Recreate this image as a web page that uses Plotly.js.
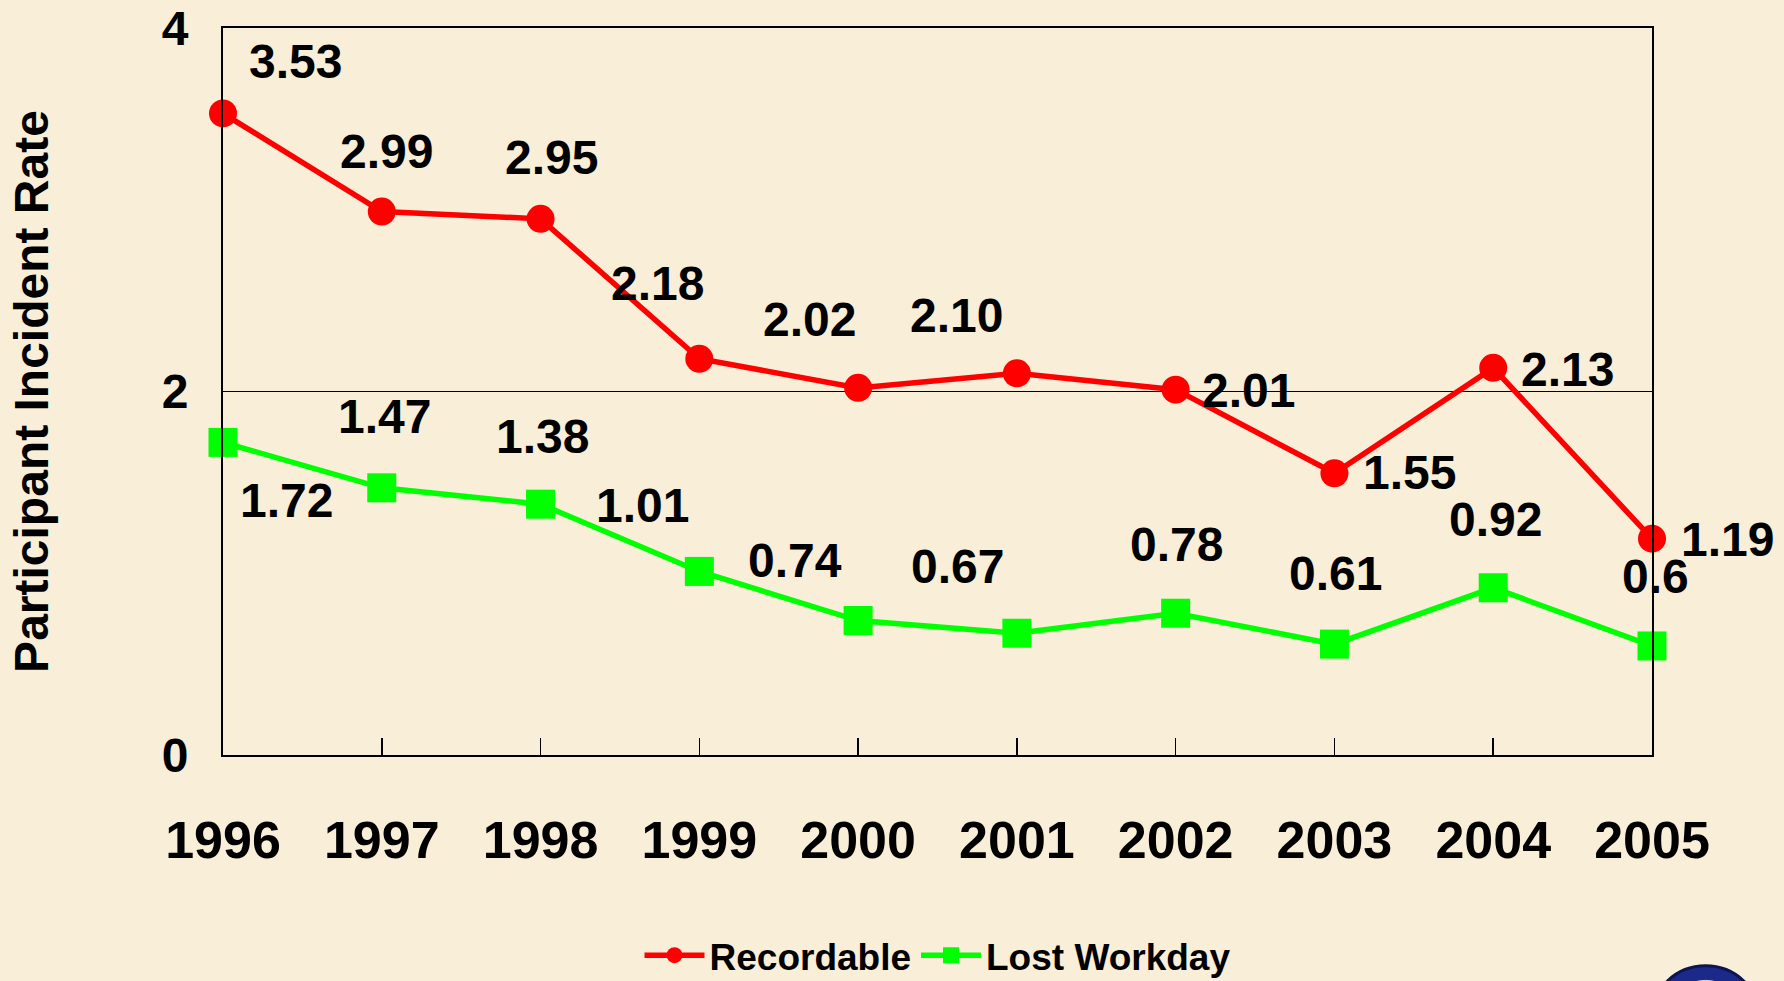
<!DOCTYPE html>
<html>
<head>
<meta charset="utf-8">
<script src="https://cdn.plot.ly/plotly-3.0.1.min.js"></script>
<style>
  html, body { margin: 0; padding: 0; background: #f9eed7; }
  #chart { width: 1784px; height: 981px; }
</style>
</head>
<body>
<div id="chart"></div>
<script>
// ---- data ----
const years = [1996, 1997, 1998, 1999, 2000, 2001, 2002, 2003, 2004, 2005];
const recordable = [3.53, 2.99, 2.95, 2.18, 2.02, 2.10, 2.01, 1.55, 2.13, 1.19];
const lostWorkday = [1.72, 1.47, 1.38, 1.01, 0.74, 0.67, 0.78, 0.61, 0.92, 0.60];
const recordableLabels = ["3.53", "2.99", "2.95", "2.18", "2.02", "2.10", "2.01", "1.55", "2.13", "1.19"];
const lostWorkdayLabels = ["1.72", "1.47", "1.38", "1.01", "0.74", "0.67", "0.78", "0.61", "0.92", "0.6"];
const yTicks = [0, 2, 4];
const seriesNames = ["Recordable", "Lost Workday"];
const yTitle = "Participant Incident Rate";

// ---- label placement (pixel offsets from each point: [dx, dy], dy downward) ----
const recShift = [[72,-52],[5,-60],[11,-61],[-42,-75],[-49,-68],[-60,-58],[73,1],[75,-1],[74,2],[75,1]];
const lostShift = [[63,58],[3,-71],[2,-68],[-57,-66],[-63,-60],[-59,-67],[1,-69],[1,-71],[2,-68],[3,-69]];

const FONT = '"Liberation Sans", Arial, sans-serif';

const traces = [
  {
    x: years, y: recordable, name: seriesNames[0], type: 'scatter', mode: 'lines+markers',
    line: { color: '#ff0000', width: 5.5 },
    marker: { color: '#ff0000', size: 28, symbol: 'circle' },
    cliponaxis: false
  },
  {
    x: years, y: lostWorkday, name: seriesNames[1], type: 'scatter', mode: 'lines+markers',
    line: { color: '#00ff00', width: 5.5 },
    marker: { color: '#00ff00', size: 29, symbol: 'square' },
    cliponaxis: false
  }
];

const annotations = [];
function addLabels(vals, labels, shifts) {
  vals.forEach((v, i) => {
    annotations.push({
      x: years[i], y: v, xref: 'x', yref: 'y', text: '<b>' + labels[i] + '</b>',
      showarrow: false, xshift: shifts[i][0], yshift: -shifts[i][1],
      font: { family: FONT, size: 48, color: '#000' }
    });
  });
}
addLabels(recordable, recordableLabels, recShift);
addLabels(lostWorkday, lostWorkdayLabels, lostShift);

const layout = {
  width: 1784, height: 981,
  paper_bgcolor: '#f9eed7', plot_bgcolor: 'rgba(0,0,0,0)',
  margin: { l: 223, r: 132, t: 28, b: 226, autoexpand: false },
  showlegend: true,
  legend: {
    orientation: 'h', x: 0.5, xanchor: 'center', y: -0.276, yanchor: 'middle',
    font: { family: FONT, size: 37, color: '#000', weight: 'bold' },
    bgcolor: 'rgba(0,0,0,0)', itemwidth: 60, traceorder: 'normal'
  },
  xaxis: {
    type: 'linear', range: [1996, 2005], tickvals: years, ticktext: years.map(String),
    ticks: 'inside', ticklen: 17, tickwidth: 1.5, tickcolor: '#000',
    showline: true, linecolor: '#000', linewidth: 2, mirror: true,
    showgrid: false, zeroline: false, ticklabelstandoff: 39,
    tickfont: { family: FONT, size: 52, color: '#000', weight: 'bold' }
  },
  yaxis: {
    range: [0, 4], tickvals: yTicks, ticktext: yTicks.map(String),
    ticks: '', showline: true, linecolor: '#000', linewidth: 2, mirror: true,
    showgrid: true, gridcolor: '#000', gridwidth: 1.5, zeroline: false,
    ticklabelstandoff: 23,
    tickfont: { family: FONT, size: 48, color: '#000', weight: 'bold' },
    title: { text: yTitle, standoff: 98, font: { family: FONT, size: 48, color: '#000', weight: 'bold' } }
  },
  annotations: annotations,
  shapes: [
    { type: 'circle', xref: 'paper', yref: 'paper', layer: 'above',
      x0: 1.000, x1: 1.075, y0: -0.43, y1: -0.29,
      fillcolor: '#1b2a8a', line: { color: '#0d1550', width: 3 } },
    { type: 'circle', xref: 'paper', yref: 'paper', layer: 'above',
      x0: 1.012, x1: 1.063, y0: -0.41, y1: -0.31,
      fillcolor: '#3aa0b8', line: { color: '#e0e0ff', width: 1 } }
  ]
};

Plotly.newPlot('chart', traces, layout, { displayModeBar: false, staticPlot: true });
</script>
</body>
</html>
